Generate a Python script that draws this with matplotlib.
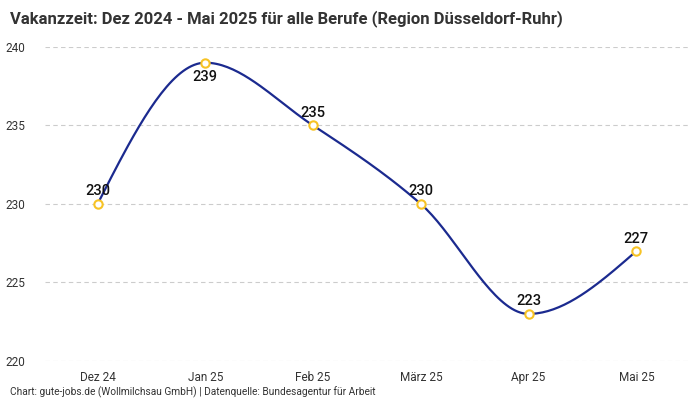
import matplotlib.pyplot as plt
import numpy as np

# data
months = ['Dez 24', 'Jan 25', 'Feb 25', 'März 25', 'Apr 25', 'Mai 25']
vakanz = [230, 239, 235, 230, 223, 227]
label_below = [False, True, False, False, False, False]

title = 'Vakanzzeit: Dez 2024 - Mai 2025 für alle Berufe (Region Düsseldorf-Ruhr)'
source = 'Chart: gute-jobs.de (Wollmilchsau GmbH) | Datenquelle: Bundesagentur für Arbeit'

plt.rcParams['font.family'] = ['Roboto', 'DejaVu Sans']


def monotone_curve(x, y, n=40):
    # monotone cubic (Fritsch-Carlson) like d3 curveMonotoneX
    x = np.asarray(x, float)
    y = np.asarray(y, float)
    h = np.diff(x)
    d = np.diff(y) / h
    m = np.zeros(len(x))
    for i in range(1, len(x) - 1):
        if d[i - 1] * d[i] <= 0:
            m[i] = 0
        else:
            p = (d[i - 1] * h[i] + d[i] * h[i - 1]) / (h[i - 1] + h[i])
            m[i] = np.sign(d[i]) * min(abs(d[i - 1]), abs(d[i]), 0.5 * abs(p)) * 2
            m[i] = p if abs(p) <= 2 * min(abs(d[i - 1]), abs(d[i])) else m[i]
    m[0] = (3 * d[0] - m[1]) / 2
    m[-1] = (3 * d[-1] - m[-2]) / 2
    xs, ys = [], []
    for i in range(len(x) - 1):
        t = np.linspace(0, 1, n)
        h00 = 2 * t**3 - 3 * t**2 + 1
        h10 = t**3 - 2 * t**2 + t
        h01 = -2 * t**3 + 3 * t**2
        h11 = t**3 - t**2
        xs.extend(x[i] + t * h[i])
        ys.extend(h00 * y[i] + h10 * h[i] * m[i] + h01 * y[i + 1] + h11 * h[i] * m[i + 1])
    return np.array(xs), np.array(ys)


fig = plt.figure(figsize=(7, 4), dpi=100)
ax = fig.add_axes([0.064, 0.0975, 0.922, 0.785])

xpos = np.arange(len(months))
cx, cy = monotone_curve(xpos, vakanz)
ax.plot(cx, cy, color='#1b2a8f', lw=1.6, zorder=3)
ax.plot(xpos, vakanz, 'o', ms=6, mfc='white', mec='#f7c325', mew=1.5, zorder=4)

for i in range(len(months)):
    if label_below[i]:
        ax.annotate(str(vakanz[i]), (xpos[i], vakanz[i]), xytext=(0, -5),
                    textcoords='offset points', ha='center', va='top',
                    fontsize=10.5, fontweight='medium', color='#111111')
    else:
        ax.annotate(str(vakanz[i]), (xpos[i], vakanz[i]), xytext=(0, 4),
                    textcoords='offset points', ha='center', va='bottom',
                    fontsize=10.5, fontweight='medium', color='#111111')

ax.set_xlim(-0.49, 5.5)
ax.set_ylim(220, 240)
ax.set_xticks(xpos)
ax.set_xticklabels(months)
ax.set_yticks([220, 225, 230, 235, 240])
ax.tick_params(length=0, labelsize=8.5, colors='#333333')
ax.tick_params(axis='y', pad=14)
ax.tick_params(axis='x', pad=7)
ax.grid(axis='y', color='#cccccc', ls=(0, (4, 3)), lw=0.8)
for s in ax.spines.values():
    s.set_visible(False)

fig.text(0.014, 0.975, title, fontsize=12, fontweight='bold', color='#333333', va='top')
fig.text(0.014, 0.005, source, fontsize=7.3, color='#333333', va='bottom')

plt.savefig('out.png', dpi=100)
